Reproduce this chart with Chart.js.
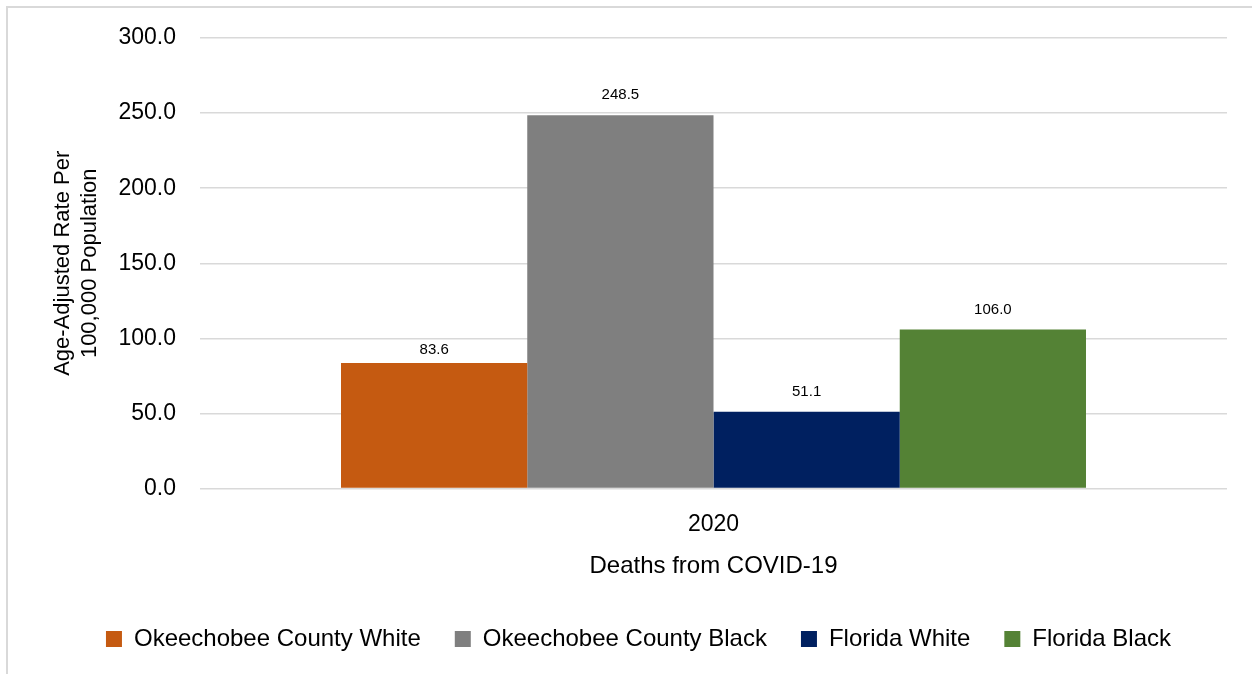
<!DOCTYPE html>
<html>
<head>
<meta charset="utf-8">
<script src="https://cdn.jsdelivr.net/npm/chart.js@4.4.1/dist/chart.umd.min.js"></script>
<style>
  html, body { margin: 0; padding: 0; background: #fff; }
  #wrap { position: relative; width: 1252px; height: 674px; overflow: hidden; }
  #frame { position: absolute; left: 6px; top: 6px; width: 1300px; height: 700px;
           border-left: 2px solid #d9d9d9; border-top: 2px solid #d9d9d9; }
  canvas { position: absolute; left: 0; top: 0; }
</style>
</head>
<body>
<div id="wrap">
  <div id="frame"></div>
  <canvas id="chart" width="1252" height="674"></canvas>
</div>
<script>
(() => {
  'use strict';

  const categories = ['2020'];
  const seriesNames = ['Okeechobee County White', 'Okeechobee County Black', 'Florida White', 'Florida Black'];
  const okeechobeeWhite = [83.6];
  const okeechobeeBlack = [248.5];
  const floridaWhite = [51.1];
  const floridaBlack = [106.0];
  const seriesColors = ['#C55A11', '#7F7F7F', '#002060', '#548235'];
  const yTicks = [0, 50, 100, 150, 200, 250, 300];

  const FONT = "'Liberation Sans', Arial, sans-serif";
  const seriesValues = [okeechobeeWhite, okeechobeeBlack, floridaWhite, floridaBlack];
  // distance of value label above bar top (first one sits under the 100 gridline)
  const labelLift = [13, 20, 20, 20];

  // value labels above each bar
  const barLabels = {
    id: 'barLabels',
    afterDatasetsDraw(chart) {
      const ctx = chart.ctx;
      ctx.save();
      ctx.font = '15px ' + FONT;
      ctx.fillStyle = '#000';
      ctx.textAlign = 'center';
      ctx.textBaseline = 'middle';
      chart.data.datasets.forEach((ds, i) => {
        chart.getDatasetMeta(i).data.forEach((bar, j) => {
          ctx.fillText(ds.data[j].toFixed(1), bar.x, bar.y - labelLift[i]);
        });
      });
      ctx.restore();
    }
  };

  new Chart(document.getElementById('chart'), {
    type: 'bar',
    data: {
      labels: categories,
      datasets: seriesNames.map((name, i) => ({
        label: name,
        data: seriesValues[i],
        backgroundColor: seriesColors[i],
        borderWidth: 0,
        barPercentage: 1,
        categoryPercentage: 0.7254
      }))
    },
    options: {
      responsive: false,
      animation: false,
      layout: { padding: { left: 50, right: 25, top: 38, bottom: 13 } },
      scales: {
        x: {
          grid: { display: false },
          border: { display: false },
          ticks: { color: '#000', font: { family: FONT, size: 23 }, padding: 14 },
          title: {
            display: true,
            text: 'Deaths from COVID-19',
            color: '#000',
            font: { family: FONT, size: 24 },
            padding: { top: 0, bottom: 12 }
          }
        },
        y: {
          min: 0,
          max: 300,
          afterBuildTicks: axis => { axis.ticks = yTicks.map(v => ({ value: v })); },
          afterFit: axis => { axis.width = 150; },
          grid: { color: '#d9d9d9', lineWidth: 1.5, drawTicks: false },
          border: { display: false },
          ticks: {
            color: '#000',
            font: { family: FONT, size: 23 },
            padding: 24,
            callback: v => Number(v).toFixed(1)
          },
          title: {
            display: true,
            text: ['Age-Adjusted Rate Per', '100,000 Population'],
            color: '#000',
            font: { family: FONT, size: 22 },
            padding: { top: 0, bottom: 15 }
          }
        }
      },
      plugins: {
        legend: {
          position: 'bottom',
          labels: {
            color: '#000',
            font: { family: FONT, size: 24 },
            boxWidth: 16,
            boxHeight: 16,
            padding: 34
          }
        },
        tooltip: { enabled: false }
      }
    },
    plugins: [barLabels]
  });
})();
</script>
</body>
</html>
